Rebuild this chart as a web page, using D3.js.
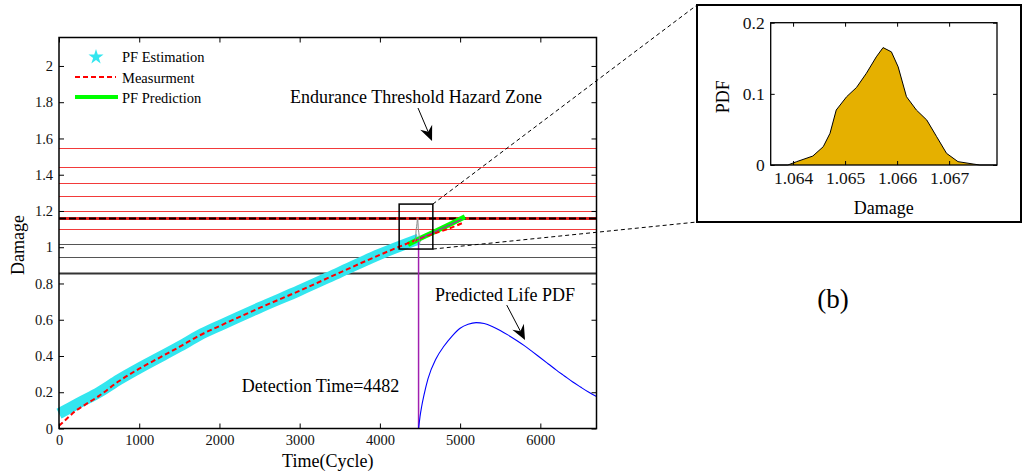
<!DOCTYPE html>
<html>
<head>
<meta charset="utf-8">
<script src="https://cdn.jsdelivr.net/npm/d3@7"></script>
<style>
  body { margin: 0; background: #fff; }
  svg { display: block; font-family: "Liberation Serif", "Times New Roman", serif; }
</style>
</head>
<body>
<svg id="chart" width="1023" height="475"></svg>
<script>
// ---- damage history (cycles vs. accumulated damage) ----
const measTime   = [0, 100, 200, 250, 500, 750, 1000, 1250, 1500, 1750, 2000, 2500, 3000, 3500, 4000, 4500, 5000, 5040];
const measDamage = [0.015, 0.055, 0.095, 0.11, 0.18, 0.262, 0.33, 0.39, 0.45, 0.513, 0.565, 0.665, 0.76, 0.86, 0.958, 1.048, 1.128, 1.136];

const pfTime   = [0, 100, 250, 500, 750, 1000, 1250, 1500, 1750, 2000, 2500, 3000, 3500, 4000, 4482];
const pfDamage = [0.082, 0.105, 0.142, 0.2, 0.27, 0.333, 0.392, 0.452, 0.515, 0.567, 0.667, 0.762, 0.862, 0.962, 1.045];

const predTime   = [4350, 4500, 4700, 4900, 5060];
const predDamage = [1.015, 1.048, 1.09, 1.132, 1.168];

const meanTime   = [4460, 5020];
const meanDamage = [1.04, 1.154];

// ---- predicted life distribution (drawn on the lower damage scale) ----
const lifeTime = [4482, 4490, 4500, 4520, 4550, 4600, 4700, 4800, 4900, 5000, 5100, 5200, 5300, 5400, 5500, 5600, 5700, 5800, 5900, 6000, 6100, 6200, 6300, 6400, 6500, 6600, 6700];
const lifePdf  = [0.0, 0.03, 0.065, 0.12, 0.185, 0.275, 0.385, 0.455, 0.51, 0.553, 0.575, 0.584, 0.579, 0.563, 0.541, 0.515, 0.487, 0.457, 0.424, 0.39, 0.356, 0.322, 0.29, 0.258, 0.229, 0.201, 0.176];

const detectionTime = 4482;
const detectionTop = 1.03;

// ---- endurance threshold hazard zone ----
const zoneRed   = [1.55, 1.441, 1.352, 1.285, 1.202, 1.100];
const zoneGray  = [1.018, 0.946];
const zoneFloor = 0.86;
const threshold = 1.161;

// ---- damage PDF at detection (inset) ----
const pdfDamage = [1.06357, 1.0639, 1.06407, 1.06438, 1.06458, 1.06471, 1.06483, 1.06503, 1.06522, 1.06541, 1.0656, 1.06573, 1.06589, 1.06602, 1.06618, 1.06637, 1.06657, 1.06676, 1.06695, 1.06717, 1.06746, 1.06759, 1.06792];
const pdfValue  = [0, 0, 0.0047, 0.0126, 0.0257, 0.0445, 0.0773, 0.096, 0.109, 0.129, 0.152, 0.165, 0.159, 0.138, 0.096, 0.0773, 0.0632, 0.0398, 0.0164, 0.0047, 0.0014, 0, 0];

// ---- ticks ----
const xTicks = [0, 1000, 2000, 3000, 4000, 5000, 6000];
const yTicks = [0, 0.2, 0.4, 0.6, 0.8, 1, 1.2, 1.4, 1.6, 1.8, 2];
const insetXTicks = [1.064, 1.065, 1.066, 1.067];
const insetYTicks = [0, 0.1, 0.2];

// zoom window around the detection point (cycles, damage)
const zoomBox = { t0: 4240, t1: 4660, d0: 0.99, d1: 1.238 };
// placement of the miniature PDF inside the zoom window
const spike = { t0: 4425, t1: 4513, base: 1.03, gain: 0.78 };

const svg = d3.select("#chart");
svg.append("rect").attr("width", 1023).attr("height", 475).attr("fill", "#fff");

// ================= main axes =================
const M = { left: 59, right: 596.5, top: 37.5, bottom: 428.5 };
const x = d3.scaleLinear().domain([0, 6700]).range([M.left, M.right]);
const y = d3.scaleLinear().domain([0, 2.157]).range([M.bottom, M.top]);

const g = svg.append("g");

// hazard zone lines (snapped to pixel centres so thin lines stay crisp)
const snap = v => Math.round(y(v)) + 0.5;
const hline = (v) => g.append("line").attr("x1", M.left).attr("x2", M.right).attr("y1", snap(v)).attr("y2", snap(v));
zoneRed.forEach(v => hline(v).attr("stroke", "#f23a3a").attr("stroke-width", 1));
zoneGray.forEach(v => hline(v).attr("stroke", "#555").attr("stroke-width", 1));
hline(zoneFloor).attr("stroke", "#333").attr("stroke-width", 2);
hline(threshold).attr("stroke", "#e82020").attr("stroke-width", 3);
hline(threshold).attr("stroke", "#000").attr("stroke-width", 2.2).attr("stroke-dasharray", "7,3");

const line = d3.line().x(d => x(d[0])).y(d => y(d[1]));
const zip = (a, b) => a.map((v, i) => [v, b[i]]);

// PF estimation band
g.append("path").datum(zip(pfTime, pfDamage)).attr("d", line.curve(d3.curveMonotoneX))
  .attr("fill", "none").attr("stroke", "#33e6ef").attr("stroke-width", 11).attr("stroke-linecap", "butt");

// PF prediction
g.append("path").datum(zip(predTime, predDamage)).attr("d", line.curve(d3.curveLinear))
  .attr("fill", "none").attr("stroke", "#00ff00").attr("stroke-width", 5);

// measurement
g.append("path").datum(zip(measTime, measDamage)).attr("d", line.curve(d3.curveMonotoneX))
  .attr("fill", "none").attr("stroke", "#ff0000").attr("stroke-width", 2).attr("stroke-dasharray", "5,3");

// prediction mean
g.append("path").datum(zip(meanTime, meanDamage)).attr("d", line.curve(d3.curveLinear))
  .attr("fill", "none").attr("stroke", "#a020b0").attr("stroke-width", 1.2);

// detection time marker
g.append("line").attr("x1", x(detectionTime)).attr("x2", x(detectionTime))
  .attr("y1", y(0)).attr("y2", y(detectionTop)).attr("stroke", "#a020b0").attr("stroke-width", 1.5);

// predicted life PDF
g.append("path").datum(zip(lifeTime, lifePdf)).attr("d", line.curve(d3.curveMonotoneX))
  .attr("fill", "none").attr("stroke", "#0000ff").attr("stroke-width", 1.1);

// miniature damage PDF inside the zoom window
const sx = d3.scaleLinear().domain([pdfDamage[0], pdfDamage[pdfDamage.length - 1]]).range([spike.t0, spike.t1]);
g.append("path").datum(zip(pdfDamage, pdfValue))
  .attr("d", d3.line().x(d => x(sx(d[0]))).y(d => y(spike.base + d[1] * spike.gain)))
  .attr("fill", "none").attr("stroke", "#888").attr("stroke-width", 1);

// zoom window
g.append("rect").attr("x", x(zoomBox.t0)).attr("y", y(zoomBox.d1))
  .attr("width", x(zoomBox.t1) - x(zoomBox.t0)).attr("height", y(zoomBox.d0) - y(zoomBox.d1))
  .attr("fill", "none").attr("stroke", "#000").attr("stroke-width", 1.5);

// axes
const fmt = d => String(+d.toFixed(1));
const ax = (axis, tr) => {
  const a = g.append("g").attr("transform", tr).call(axis);
  a.attr("font-family", null);
  a.select(".domain").remove();
  a.selectAll("text").attr("font-family", "Liberation Serif").attr("font-size", 14.5).attr("fill", "#111");
  a.selectAll("line").attr("stroke", "#000");
  return a;
};
ax(d3.axisBottom(x).tickValues(xTicks).tickFormat(d => d).tickSizeInner(-5).tickSizeOuter(0).tickPadding(6), `translate(0,${M.bottom})`);
ax(d3.axisLeft(y).tickValues(yTicks).tickFormat(fmt).tickSizeInner(-5).tickSizeOuter(0).tickPadding(6), `translate(${M.left},0)`);
ax(d3.axisTop(x).tickValues(xTicks).tickFormat("").tickSizeInner(-5).tickSizeOuter(0), `translate(0,${M.top})`);
ax(d3.axisRight(y).tickValues(yTicks).tickFormat("").tickSizeInner(-5).tickSizeOuter(0), `translate(${M.right},0)`);
g.append("rect").attr("x", M.left).attr("y", M.top).attr("width", M.right - M.left).attr("height", M.bottom - M.top)
  .attr("fill", "none").attr("stroke", "#000").attr("stroke-width", 1.5);

g.append("text").attr("x", (M.left + M.right) / 2).attr("y", 467).attr("text-anchor", "middle")
  .attr("font-size", 18).text("Time(Cycle)");
g.append("text").attr("transform", `translate(24,${(M.top + M.bottom) / 2 + 12}) rotate(-90)`).attr("text-anchor", "middle")
  .attr("font-size", 18).text("Damage");

// legend
const lg = g.append("g").attr("font-size", 14.5);
lg.append("path").attr("d", d3.symbol(d3.symbolStar, 70)()).attr("transform", "translate(96,57)").attr("fill", "#33e6ef");
lg.append("text").attr("x", 122).attr("y", 62).text("PF Estimation");
lg.append("line").attr("x1", 75).attr("x2", 116).attr("y1", 77).attr("y2", 77)
  .attr("stroke", "#ff0000").attr("stroke-width", 2).attr("stroke-dasharray", "5,3");
lg.append("text").attr("x", 122).attr("y", 83).text("Measurment");
lg.append("line").attr("x1", 75).attr("x2", 118).attr("y1", 97).attr("y2", 97)
  .attr("stroke", "#00ff00").attr("stroke-width", 4);
lg.append("text").attr("x", 122).attr("y", 103).text("PF Prediction");

// annotations with arrows
function arrow(t0, d0, t1, d1) {
  const x0 = x(t0), y0 = y(d0), x1 = x(t1), y1 = y(d1);
  const a = Math.atan2(y1 - y0, x1 - x0);
  const L = 15, W = 6.5, B = 10;
  const p = (l, w) => [x1 - l * Math.cos(a) - w * Math.sin(a), y1 - l * Math.sin(a) + w * Math.cos(a)];
  g.append("line").attr("x1", x0).attr("y1", y0).attr("x2", p(B, 0)[0]).attr("y2", p(B, 0)[1])
    .attr("stroke", "#000").attr("stroke-width", 1);
  g.append("path").attr("d", "M" + [[x1, y1], p(L, W), p(B, 0), p(L, -W)].map(q => q.join(",")).join("L") + "Z")
    .attr("fill", "#000");
}
g.append("text").attr("x", x(2880)).attr("y", y(1.793)).attr("font-size", 18).text("Endurance Threshold Hazard Zone");
arrow(4475, 1.768, 4650, 1.586);
g.append("text").attr("x", x(4687)).attr("y", y(0.705)).attr("font-size", 18).text("Predicted Life PDF");
arrow(5581, 0.681, 5809, 0.488);
g.append("text").attr("x", x(2277)).attr("y", y(0.203)).attr("font-size", 18).text("Detection Time=" + detectionTime);

// ================= inset: damage PDF =================
const F = { left: 697, top: 5, right: 1021, bottom: 222 };
const I = { left: 770.7, right: 997, top: 22.7, bottom: 165 };
const ix = d3.scaleLinear().domain([pdfDamage[0], pdfDamage[pdfDamage.length - 1]]).range([I.left, I.right]);
const iy = d3.scaleLinear().domain([0, 0.2]).range([I.bottom, I.top]);
const ig = svg.append("g");

// connectors from the zoom window to the inset frame
ig.append("line").attr("x1", x(zoomBox.t1)).attr("y1", y(zoomBox.d1)).attr("x2", F.left).attr("y2", F.top)
  .attr("stroke", "#000").attr("stroke-width", 1).attr("stroke-dasharray", "4,3");
ig.append("line").attr("x1", x(zoomBox.t1)).attr("y1", y(zoomBox.d0)).attr("x2", F.left).attr("y2", F.bottom)
  .attr("stroke", "#000").attr("stroke-width", 1).attr("stroke-dasharray", "4,3");

ig.append("rect").attr("x", F.left).attr("y", F.top).attr("width", F.right - F.left).attr("height", F.bottom - F.top)
  .attr("fill", "#fff").attr("stroke", "#000").attr("stroke-width", 2);

const pdfPts = zip(pdfDamage, pdfValue);
ig.append("path").datum(pdfPts)
  .attr("d", d3.area().x(d => ix(d[0])).y0(iy(0)).y1(d => iy(d[1])))
  .attr("fill", "#e5b000");
ig.append("path").datum(pdfPts)
  .attr("d", d3.line().x(d => ix(d[0])).y(d => iy(d[1])))
  .attr("fill", "none").attr("stroke", "#000").attr("stroke-width", 1);

const iax = (axis, tr) => {
  const a = ig.append("g").attr("transform", tr).call(axis);
  a.attr("font-family", null);
  a.select(".domain").remove();
  a.selectAll("text").attr("font-family", "Liberation Serif").attr("font-size", 17.5).attr("fill", "#111");
  a.selectAll("line").attr("stroke", "#000");
};
iax(d3.axisBottom(ix).tickValues(insetXTicks).tickFormat(d3.format(".3f")).tickSizeInner(-4).tickSizeOuter(0).tickPadding(7), `translate(0,${I.bottom})`);
iax(d3.axisLeft(iy).tickValues(insetYTicks).tickFormat(fmt).tickSizeInner(-4).tickSizeOuter(0).tickPadding(6), `translate(${I.left},0)`);
iax(d3.axisTop(ix).tickValues(insetXTicks).tickFormat("").tickSizeInner(-4).tickSizeOuter(0), `translate(0,${I.top})`);
iax(d3.axisRight(iy).tickValues(insetYTicks).tickFormat("").tickSizeInner(-4).tickSizeOuter(0), `translate(${I.right},0)`);
ig.append("rect").attr("x", I.left).attr("y", I.top).attr("width", I.right - I.left).attr("height", I.bottom - I.top)
  .attr("fill", "none").attr("stroke", "#000").attr("stroke-width", 1.3);

ig.append("text").attr("x", (I.left + I.right) / 2).attr("y", 214).attr("text-anchor", "middle")
  .attr("font-size", 18).text("Damage");
ig.append("text").attr("transform", `translate(729,${(I.top + I.bottom) / 2 + 3}) rotate(-90)`).attr("text-anchor", "middle")
  .attr("font-size", 18).text("PDF");

svg.append("text").attr("x", 833).attr("y", 308).attr("text-anchor", "middle").attr("font-size", 27).text("(b)");
</script>
</body>
</html>
